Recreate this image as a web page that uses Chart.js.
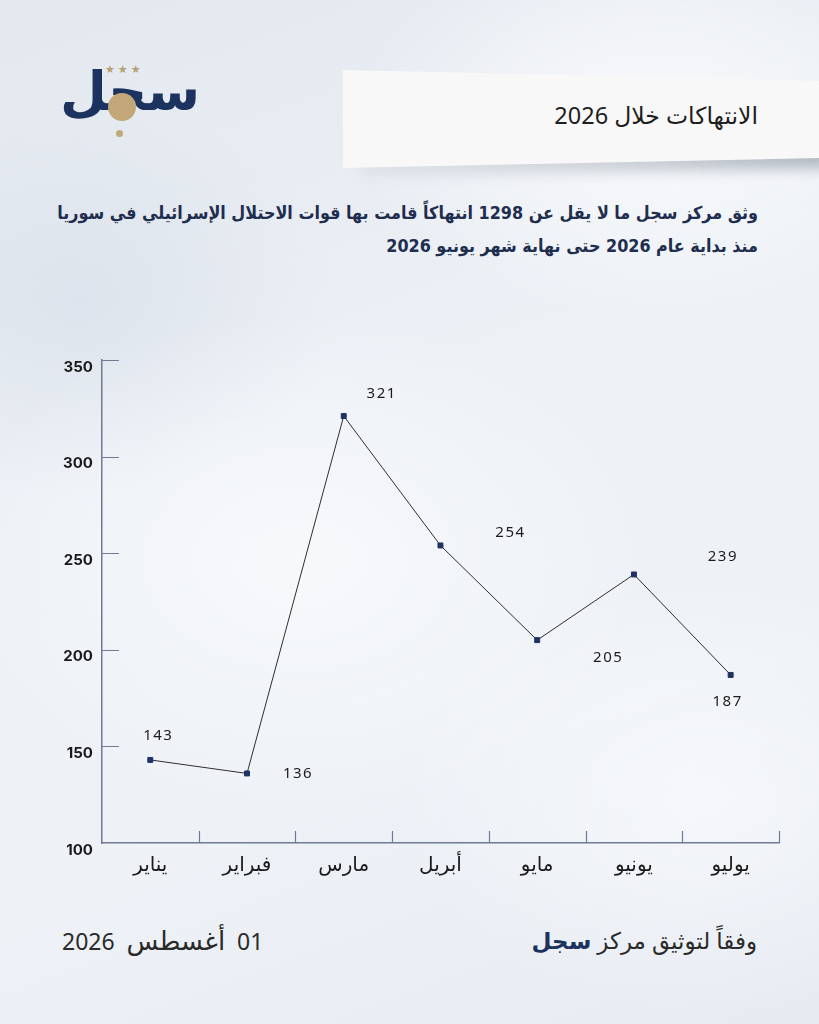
<!DOCTYPE html>
<html lang="ar">
<head>
<meta charset="utf-8">
<script src="https://cdn.jsdelivr.net/npm/chart.js@4.4.1/dist/chart.umd.min.js"></script>
<style>
  html, body { margin: 0; padding: 0; }
  body {
    width: 819px; height: 1024px; position: relative; overflow: hidden;
    font-family: "Noto Sans", "DejaVu Sans", sans-serif;
    background:
      radial-gradient(ellipse 300px 200px at 650px 120px, rgba(255,255,255,0.7), rgba(255,255,255,0)),
      radial-gradient(ellipse 350px 250px at 300px 560px, rgba(255,255,255,0.55), rgba(255,255,255,0)),
      radial-gradient(ellipse 300px 220px at 700px 800px, rgba(255,255,255,0.5), rgba(255,255,255,0)),
      radial-gradient(ellipse 260px 200px at 80px 300px, rgba(210,218,230,0.5), rgba(210,218,230,0)),
      linear-gradient(160deg, #e3e8ef 0%, #edf1f6 40%, #eef2f7 70%, #e6ebf2 100%);
  }
  .logo { position: absolute; left: 58px; top: 52px; width: 145px; height: 90px; }
  .logo .word { position: absolute; left: 2px; top: 8px; font: bold 54px "DejaVu Sans", sans-serif; color: #1c3360; direction: rtl; letter-spacing: -1px; }
  .logo .stars { position: absolute; left: 47px; top: 9px; color: #b9a071; font-size: 11px; letter-spacing: 3px; }
  .logo .ball { position: absolute; left: 50px; top: 41px; width: 28px; height: 28px; border-radius: 50%; background: #c2a878; }
  .logo .dot { position: absolute; left: 58px; top: 78px; width: 7px; height: 7px; border-radius: 50%; background: #c2a878; }
  .shadow { position: absolute; left: 360px; top: 150px; width: 470px; height: 22px;
    background: linear-gradient(90deg, rgba(150,160,175,0.15), rgba(120,130,145,0.55));
    filter: blur(7px); transform: skewY(-1deg); }
  .titlebox { position: absolute; left: 343px; top: 70px; width: 476px; height: 98px; background: #f8f8f8;
    clip-path: polygon(0 0, 100% 11px, 100% 88px, 0 100%); }
  .title { position: absolute; right: 61px; top: 99px; font-size: 23.5px; color: #1e1e1e; direction: rtl; white-space: nowrap; }
  .sub { position: absolute; right: 61px; font: bold 17.8px "DejaVu Sans Condensed", "DejaVu Sans", sans-serif; color: #1f2d4f; direction: rtl; white-space: nowrap; }
  .foot { position: absolute; top: 923px; font-size: 23px; line-height: 34px; color: #2a2a2a; white-space: nowrap; direction: rtl; }
  .foot b { color: #1c3360; }
  .foot .ar { font-size: 26px; }
  canvas { position: absolute; left: 42px; top: 340px; }
</style>
</head>
<body>
<div class="logo">
  <div class="word">سجل</div>
  <div class="stars">★★★</div>
  <div class="ball"></div>
  <div class="dot"></div>
</div>
<div class="shadow"></div>
<div class="titlebox"></div>
<div class="title">الانتهاكات خلال 2026</div>
<div class="sub" style="top:202px">وثق مركز سجل ما لا يقل عن 1298 انتهاكاً قامت بها قوات الاحتلال الإسرائيلي في سوريا</div>
<div class="sub" style="top:235px">منذ بداية عام 2026 حتى نهاية شهر يونيو 2026</div>
<canvas id="chart" width="758" height="550"></canvas>
<div class="foot" style="right:62px">وفقاً لتوثيق مركز <b>سجل</b></div>
<div class="foot" style="left:62px; word-spacing:6px">01 <span class="ar">أغسطس</span> 2026</div>
<script>
const months = ['يناير', 'فبراير', 'مارس', 'أبريل', 'مايو', 'يونيو', 'يوليو'];
const violations = [143, 136, 321, 254, 205, 239, 187];
const yTicks = [100, 150, 200, 250, 300, 350];

// where each value label sits relative to its point (as in the original)
const labelShift = [[8, -24], [51, 0], [38, -22], [70, -13], [71, 18], [89, -18], [-3, 27]];

const axisColor = '#6f7a94';

const innerTicks = {
    id: 'innerTicks',
    afterDraw(chart) {
        const ctx = chart.ctx;
        const x = chart.scales.x, y = chart.scales.y;
        ctx.save();
        ctx.strokeStyle = axisColor;
        ctx.lineWidth = 1.2;
        ctx.beginPath();
        yTicks.forEach(v => {
            const py = Math.round(y.getPixelForValue(v)) + 0.5;
            if (v === y.min) return;
            ctx.moveTo(x.left, py);
            ctx.lineTo(x.left + 17, py);
        });
        for (let i = 0; i < months.length; i++) {
            const px = i < months.length - 1
                ? (x.getPixelForValue(i) + x.getPixelForValue(i + 1)) / 2
                : x.right;
            ctx.moveTo(Math.round(px) + 0.5, y.bottom);
            ctx.lineTo(Math.round(px) + 0.5, y.bottom - 12);
        }
        ctx.stroke();
        ctx.restore();
    }
};

const valueLabels = {
    id: 'valueLabels',
    afterDatasetsDraw(chart) {
        const ctx = chart.ctx;
        const meta = chart.getDatasetMeta(0);
        ctx.save();
        ctx.font = '15px "Noto Sans", "DejaVu Sans", sans-serif';
        ctx.letterSpacing = '1.5px';
        ctx.fillStyle = '#1c1c1c';
        ctx.textAlign = 'center';
        ctx.textBaseline = 'middle';
        meta.data.forEach((pt, i) => {
            ctx.fillText(String(violations[i]), pt.x + labelShift[i][0], pt.y + labelShift[i][1]);
        });
        ctx.restore();
    }
};

new Chart(document.getElementById('chart').getContext('2d'), {
    type: 'line',
    data: {
        labels: months,
        datasets: [{
            data: violations,
            borderColor: '#2e2e2e',
            borderWidth: 1,
            pointStyle: 'rect',
            pointRadius: 3.5,
            pointBackgroundColor: '#1f3263',
            pointBorderColor: '#1f3263',
            tension: 0
        }]
    },
    options: {
        responsive: false,
        animation: false,
        layout: { padding: { left: 12, right: 21, top: 20, bottom: 3 } },
        plugins: { legend: { display: false }, tooltip: { enabled: false } },
        scales: {
            x: {
                offset: true,
                grid: { display: false, offset: true, drawTicks: false, tickLength: 0 },
                border: { color: axisColor, width: 1.5 },
                ticks: {
                    color: '#1a1a1a',
                    padding: 10,
                    font: { size: 20, family: '"Noto Sans", "DejaVu Sans", sans-serif' }
                }
            },
            y: {
                min: 100,
                max: 350,
                grid: { display: false, drawTicks: false, tickLength: 0 },
                border: { color: axisColor, width: 1.5 },
                afterBuildTicks(scale) { scale.ticks = yTicks.map(v => ({ value: v })); },
                ticks: {
                    color: '#1a1a1a',
                    padding: 9,
                    labelOffset: 7,
                    font: { size: 15, weight: 'bold', family: 'Inter, "DejaVu Sans", sans-serif' }
                }
            }
        }
    },
    plugins: [innerTicks, valueLabels]
});
</script>
</body>
</html>
